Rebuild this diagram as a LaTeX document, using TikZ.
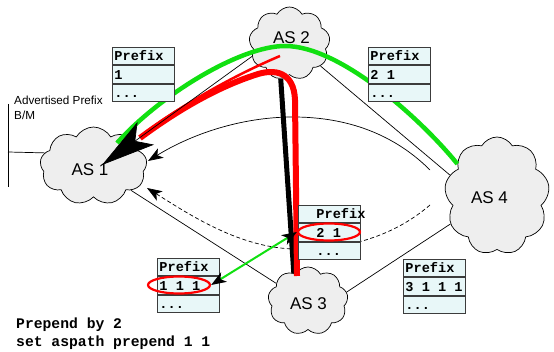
\documentclass[tikz,border=0pt]{standalone}
\usepackage{fontspec}
\setmainfont{Liberation Sans}
\newfontfamily\codefont{Liberation Mono}
\newcommand\celltext[1]{\makebox[58pt][l]{#1}}
\usetikzlibrary{shapes.symbols,shapes.geometric,arrows.meta}
\definecolor{cloudfill}{HTML}{EEEEEE}
\definecolor{cellfill}{HTML}{E8F7F8}
\definecolor{cellline}{HTML}{3C3C3C}
\definecolor{pathgreen}{HTML}{11E011}
\definecolor{pathred}{HTML}{FF0000}
\begin{document}
\begin{tikzpicture}[x=1pt,y=-1pt,
  asnode/.style={cloud, cloud puffs=9, cloud puff arc=120, cloud ignores aspect,
    draw=black, line width=0.7pt, fill=cloudfill, inner sep=0pt},
  aslabel/.style={font=\fontsize{17}{20}\selectfont},
  cell/.style={draw=cellline, line width=0.9pt, fill=cellfill, minimum height=17.5pt,
    minimum width=62pt, inner xsep=2pt, inner ysep=0pt,
    text height=10pt, text depth=1pt,
    font=\codefont\bfseries\fontsize{13.6}{14}\selectfont},
  link/.style={draw=black, line width=0.7pt},
  smalltip/.style={-{Stealth[length=15pt,width=11pt,inset=4pt]}},
  pickring/.style={ellipse, draw=pathred, line width=2.2pt, minimum width=62pt,
    minimum height=17pt, inner sep=0pt},
  codeline/.style={anchor=base west, inner sep=0pt,
    font=\codefont\bfseries\fontsize{14.7}{16}\selectfont},
]
\useasboundingbox (0,0) rectangle (554,352);

% autonomous systems
\node[asnode, minimum width=107pt, minimum height=78pt] (as1) at (93.5,166) {};
\node[asnode, minimum width=81pt, minimum height=73pt] (as2) at (289.5,43.5) {};
\node[asnode, minimum width=80pt, minimum height=68pt] (as3) at (308,301) {};
\node[asnode, minimum width=105pt, minimum height=118pt] (as4) at (497,196) {};
\node[aslabel] (as1lbl) at (90,170) {AS 1};
\node[aslabel] (as2lbl) at (291.5,37.5) {AS 2};
\node[aslabel] (as3lbl) at (308.5,304) {AS 3};
\node[aslabel] (as4lbl) at (489.5,197.5) {AS 4};

% the advertised prefix B/M hanging off AS 1
\coordinate (lanTop) at (8,104);
\coordinate (lanBot) at (8,187);
\coordinate (lanTap) at (8,152);
\draw[link] (lanTop) -- (lanBot);
\draw[link] (lanTap) -- (as1.165);
\node[anchor=base west, inner sep=0pt, font=\fontsize{11.7}{13}\selectfont] (advtxt) at (14,105) {Advertised Prefix};
\node[anchor=base west, inner sep=0pt, font=\fontsize{11.7}{13}\selectfont] (bmtxt) at (14,120) {B/M};

% peering links
\draw[link] (as2.-36) -- (as4.156);
\draw[link] (as1.-33) -- (as3.151);
\draw[link] (as3.13) -- (as4.211);

% announcements from AS 4 back to AS 1
\coordinate (arcA) at (430,170);
\coordinate (arcB) at (148,161);
\coordinate (dashA) at (430,205);
\coordinate (dashB) at (147,188);
\draw[link, smalltip] (arcA) .. controls (390,130) and (340,117) .. (293,117)
  .. controls (240,117) and (190,135) .. (arcB);
\draw[link, dash pattern=on 4pt off 2.5pt, smalltip] (dashA) .. controls (395,235) and (350,250) .. (295,249)
  .. controls (240,248) and (190,215) .. (dashB);

% traffic path AS 3 -> AS 2 -> AS 1
\coordinate (as3in) at (297,276);
\coordinate (as2in) at (280,56);
\coordinate (as1red) at (140,138);
\coordinate (as1redthin) at (146,132);
\coordinate (as1green) at (117,143);
\coordinate (as1tip) at (102,165);
\draw[line width=5pt] (as2.256) -- (as3.117);
\draw[pathred, line width=6pt] (as3in) -- (295,100) .. controls (294,72) and (275,68) .. (255,75)
  .. controls (215,88) and (175,112) .. (as1red);
\draw[pathred, line width=2.5pt] (as2in) .. controls (235,75) and (185,103) .. (as1redthin);

% AS 4 learns the route through AS 2
\draw[pathgreen, line width=4.5pt] (as4.141) .. controls (420,118) and (340,46) .. (285,46)
  .. controls (240,46) and (160,95) .. (as1green);

% link AS 2 -- AS 1 ending in the heavy arrow
\draw[link, -{Stealth[length=54pt,width=28pt,inset=13pt]}] (as2.199) -- (as1tip);

% routing tables
\node[cell, anchor=north west] (t1h) at (112,47) {\celltext{Prefix}};
\node[cell, anchor=north] (t1a) at (t1h.south) {\celltext{1}};
\node[cell, anchor=north] (t1b) at (t1a.south) {\celltext{...}};

\node[cell, anchor=north west] (t2h) at (368,47) {\celltext{Prefix}};
\node[cell, anchor=north] (t2a) at (t2h.south) {\celltext{2 1}};
\node[cell, anchor=north] (t2b) at (t2a.south) {\celltext{...}};

\node[cell, anchor=north west] (t3h) at (298,205) {\celltext{\hspace*{16pt}Prefix}};
\node[cell, anchor=north] (t3a) at (t3h.south) {\celltext{\hspace*{16pt}2 1}};
\node[cell, anchor=north] (t3b) at (t3a.south) {\celltext{\hspace*{16pt}...}};

\node[cell, anchor=north west] (t4h) at (157,258) {\celltext{Prefix}};
\node[cell, anchor=north] (t4a) at (t4h.south) {\celltext{1 1 1}};
\node[cell, anchor=north] (t4b) at (t4a.south) {\celltext{...}};

\node[cell, anchor=north west] (t5h) at (403,259) {\celltext{Prefix}};
\node[cell, anchor=north] (t5a) at (t5h.south) {\celltext{3 1 1 1}};
\node[cell, anchor=north] (t5b) at (t5a.south) {\celltext{...}};

% chosen entries
\node[pickring] (e3) at (329,232) {};
\node[pickring] (e4) at (179,285) {};
\draw[pathgreen, line width=2pt,
  {Stealth[black,length=15pt,width=11pt,inset=4pt]}-{Stealth[black,length=15pt,width=11pt,inset=4pt]}]
  (e4.east) -- (e3.west);

% policy applied at AS 1
\node[codeline] (cfg1) at (16,329) {Prepend by 2};
\node[codeline] (cfg2) at (16,347) {set aspath prepend 1 1};
\end{tikzpicture}
\end{document}
